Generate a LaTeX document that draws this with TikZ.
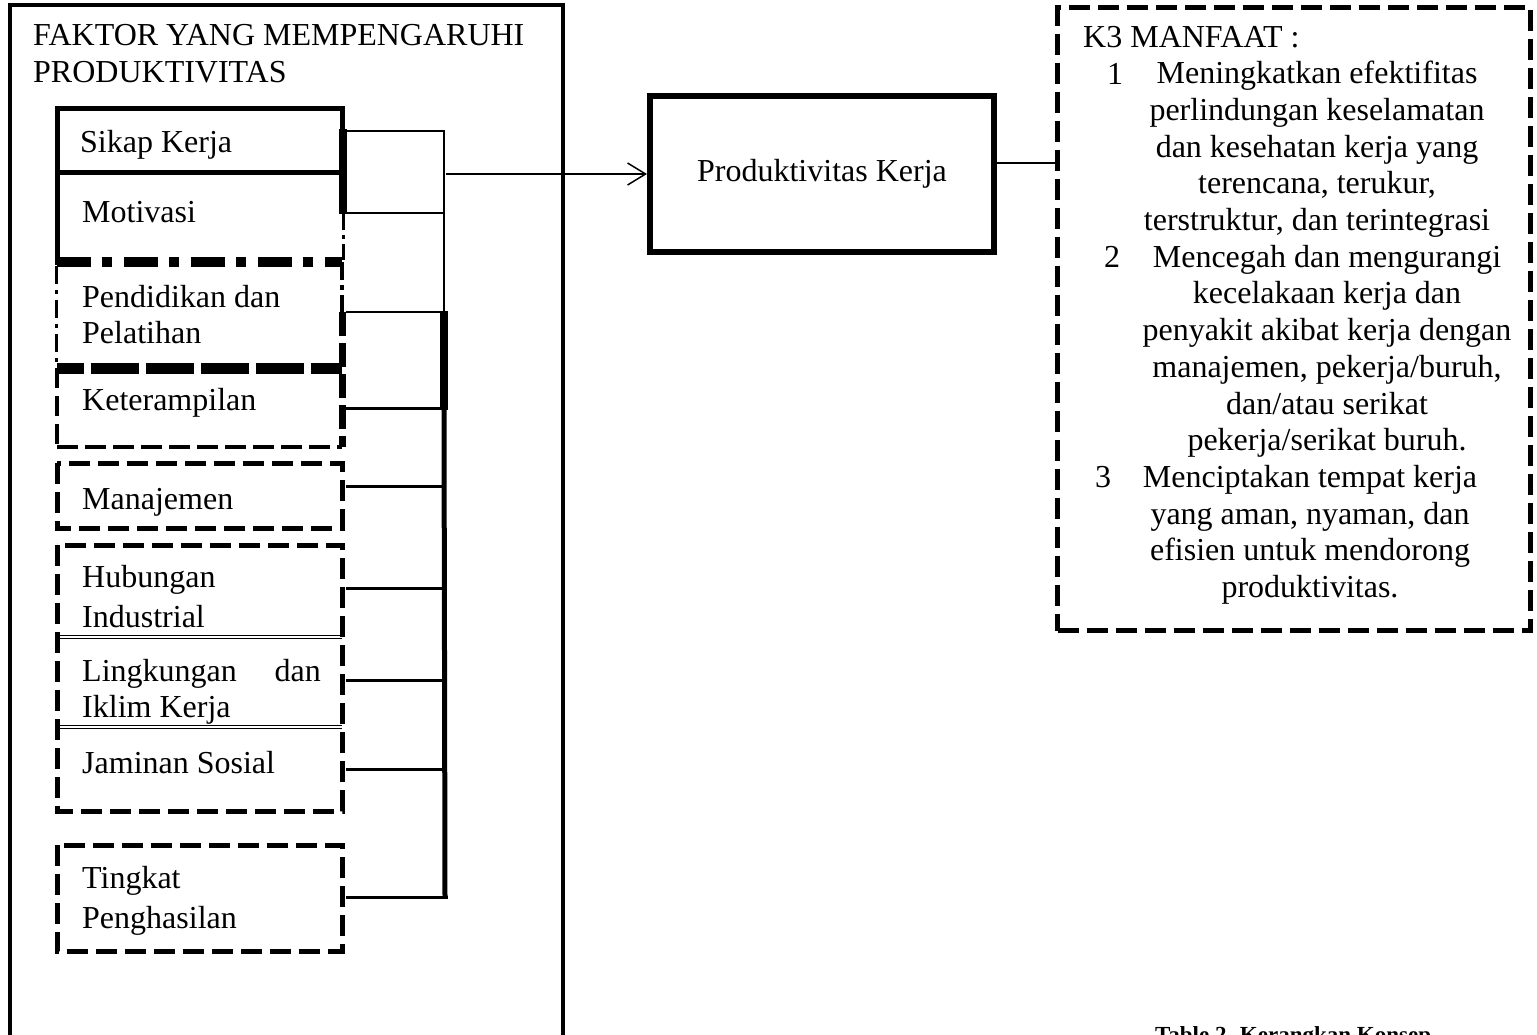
\documentclass[tikz,border=0pt]{standalone}
\usepackage{fontspec}
\setmainfont{Liberation Serif}
\usetikzlibrary{arrows.meta}
\newcommand{\mainfs}{\fontsize{32}{37}\selectfont}
\newcommand{\capfs}{\fontsize{23}{28}\selectfont\bfseries}
\begin{document}
\begin{tikzpicture}[x=1pt,y=-1pt,
  lbl/.style={font=\mainfs, inner sep=0pt, anchor=base west},
  ctr/.style={font=\mainfs, inner sep=0pt, anchor=base},
  conn/.style={line width=3pt},
  dbox/.style={line width=5pt, dash pattern=on 21pt off 8pt},
  rdash/.style={line width=7pt, dash pattern=on 24pt off 7pt},
  solidedge/.style={line width=5pt, line cap=rect},
  dbl/.style={double, double distance=2pt, line width=1.3pt}
]
\useasboundingbox (0,0) rectangle (1537,1034);

% outer container
\draw[line width=4.5pt] (10,5) rectangle (563,1045);
\node[lbl] (t1) at (33,45) {FAKTOR YANG MEMPENGARUHI};
\node[lbl] (t2) at (33,82) {PRODUKTIVITAS};

% --- Sikap Kerja / Motivasi (solid)
\draw[solidedge] (57,262) -- (57,108) -- (342,108) -- (342,131);
\draw[solidedge] (57,172) -- (342,172);
\draw[line width=8pt] (343,129) -- (343,214);
\draw[line width=3pt, dash pattern=on 16pt off 5pt on 4pt off 5pt] (343,214) -- (343,262);
\node[lbl] (sikap) at (80,152) {Sikap Kerja};
\node[lbl] (motiv) at (82,222) {Motivasi};

% --- Pendidikan dan Pelatihan (dash-dot)
\draw[line width=3pt, dash pattern=on 18pt off 6pt on 4pt off 6pt] (56,266) -- (56,364);
\draw[line width=4pt, dash pattern=on 18pt off 5pt on 5pt off 5pt] (342,262) -- (342,312);
\draw[line width=10pt, dash pattern=on 34pt off 11pt on 10pt off 12pt] (57,262) -- (342,262);
\node[lbl] (pend1) at (82,307) {Pendidikan dan};
\node[lbl] (pend2) at (82,343) {Pelatihan};

% --- Keterampilan (dashed)
\draw[line width=4pt, dash pattern=on 20pt off 8pt] (57,368) -- (57,447);
\draw[rdash] (342,312) -- (342,447);
\draw[line width=4pt, dash pattern=on 21pt off 7pt] (57,447) -- (342,447);
\draw[line width=11pt, dash pattern=on 48pt off 7pt, dash phase=21pt] (57,368) -- (342,368);
\node[lbl] (ketr) at (82,410) {Keterampilan};

% --- Manajemen
\draw[dbox] (57,463) rectangle (342,528);
\node[lbl] (manaj) at (82,509) {Manajemen};

% --- Hubungan / Lingkungan / Jaminan
\draw[dbl] (57,637) -- (342,637);
\draw[dbl] (57,727) -- (342,727);
\draw[dbox] (57,545) rectangle (342,811);
\node[lbl] (hub1) at (82,587) {Hubungan};
\node[lbl] (hub2) at (82,627) {Industrial};
\node[lbl] (ling1) at (82,681) {Lingkungan};
\node[font=\mainfs, inner sep=0pt, anchor=base east] (ling1b) at (321,681) {dan};
\node[lbl] (ling2) at (82,717) {Iklim Kerja};
\node[lbl] (jam) at (82,773) {Jaminan Sosial};

% --- Tingkat Penghasilan
\draw[dbox] (57,845) rectangle (342,951);
\node[lbl] (ting1) at (82,888) {Tingkat};
\node[lbl] (ting2) at (82,928) {Penghasilan};

% --- connector points
\coordinate (c1) at (346,131);  \coordinate (b1) at (444,131);
\coordinate (c2) at (346,213);  \coordinate (b2) at (444,213);
\coordinate (c3) at (346,312);  \coordinate (b3) at (444,312);
\coordinate (c4) at (346,408);  \coordinate (b4) at (444,408);
\coordinate (c5) at (346,486);  \coordinate (b5) at (445,486);
\coordinate (c6) at (346,588);  \coordinate (b6) at (445,588);
\coordinate (c7) at (346,680);  \coordinate (b7) at (445,680);
\coordinate (c8) at (346,769);  \coordinate (b8) at (445,769);
\coordinate (c9) at (346,897);  \coordinate (b9) at (445,897);
\coordinate (arr) at (446,174);

\draw[line width=2.5pt] (c1) -- (b1) -- (b3);
\draw[line width=2.5pt] (c2) -- (b2);
\draw[line width=2.5pt] (c3) -- (b3);
\draw[line width=8pt] ([yshift=1pt]b3) -- ([yshift=-2pt]b4);
\draw[conn] (c4) -- (b4);
\draw[line width=5pt] (b4) -- (b9);
\foreach \k in {5,6,7,8} { \draw[conn] (c\k) -- (b\k); }
\draw[conn] (c9) -- ([xshift=2.5pt]b9);

% --- Produktivitas Kerja
\node[draw, line width=6pt, minimum width=344pt, minimum height=156pt, font=\mainfs] (prod) at (822,174) {Produktivitas Kerja};
\draw[line width=1.5pt, -{Straight Barb[length=18pt,width=22pt,line width=1.5pt]}] (arr) -- (prod.west);

% --- K3 MANFAAT
\node[draw, line width=5pt, dash pattern=on 21pt off 8pt, minimum width=473pt, minimum height=623pt] (k3) at (1294,319) {};
\draw[line width=2pt] ([yshift=11pt]prod.east) -- ([yshift=11pt]prod.east -| k3.west);

\node[lbl] (k3t) at (1083,47) {K3 MANFAAT :};
\node[ctr] (n1) at (1115,84) {1};
\node[ctr] (n2) at (1112,267) {2};
\node[ctr] (n3) at (1103,487) {3};
\foreach \i/\x/\t in {
  1/1317/{Meningkatkan efektifitas},
  2/1317/{perlindungan keselamatan},
  3/1317/{dan kesehatan kerja yang},
  4/1317/{terencana, terukur,},
  5/1317/{terstruktur, dan terintegrasi},
  6/1327/{Mencegah dan mengurangi},
  7/1327/{kecelakaan kerja dan},
  8/1327/{penyakit akibat kerja dengan},
  9/1327/{manajemen, pekerja/buruh,},
  10/1327/{dan/atau serikat},
  11/1327/{pekerja/serikat buruh.},
  12/1310/{Menciptakan tempat kerja},
  13/1310/{yang aman, nyaman, dan},
  14/1310/{efisien untuk mendorong},
  15/1310/{produktivitas.}} {
  \node[ctr] (k\i) at (\x, 47+36.7*\i) {\t};
}

% --- caption (cut at page edge)
\node[font=\capfs, inner sep=0pt, anchor=base west] (cap) at (1155,1042) {Table 2. Kerangkan Konsep};
\end{tikzpicture}
\end{document}
